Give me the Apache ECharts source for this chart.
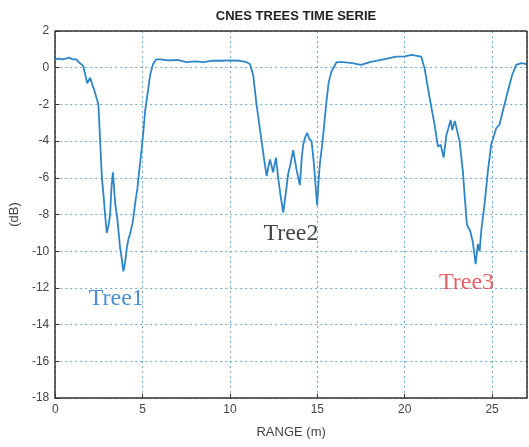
<!DOCTYPE html>
<html>
<head>
<meta charset="utf-8">
<script src="https://cdn.jsdelivr.net/npm/echarts@6/dist/echarts.min.js"></script>
<style>
html,body{margin:0;padding:0;background:#fff;}
#c{width:529px;height:447px;}
</style>
</head>
<body>
<div id="c"></div>
<script>
var rangeM = [0,0.2,0.4,0.6,0.8,1.0,1.2,1.35,1.6,1.83,2.0,2.15,2.29,2.47,2.57,2.67,2.76,2.85,2.95,3.05,3.14,3.22,3.3,3.43,3.55,3.71,3.82,3.9,4.0,4.1,4.19,4.3,4.44,4.52,4.6,4.7,4.82,4.95,5.05,5.14,5.3,5.43,5.6,5.77,6.0,6.5,7.0,7.5,8.0,8.5,9.0,9.5,10.0,10.5,10.95,11.14,11.33,11.52,11.81,12.0,12.1,12.2,12.29,12.47,12.63,12.76,12.9,13.05,13.2,13.33,13.45,13.62,13.8,14.0,14.1,14.19,14.3,14.42,14.55,14.67,14.78,14.86,14.93,14.99,15.07,15.14,15.3,15.52,15.65,15.81,16.1,16.5,17.0,17.5,18.0,18.5,19.0,19.5,20.0,20.4,20.7,20.95,21.14,21.43,21.71,21.9,22.06,22.23,22.38,22.5,22.63,22.72,22.8,22.87,22.95,23.14,23.33,23.45,23.56,23.75,23.9,24.06,24.19,24.29,24.38,24.47,24.57,24.76,24.95,25.24,25.43,25.66,25.9,26.15,26.38,26.67,27.0];
var levelDb = [0.45,0.5,0.45,0.5,0.55,0.45,0.45,0.3,0.1,-0.85,-0.55,-1.0,-1.4,-2.0,-4.0,-6.0,-6.9,-8.0,-9.0,-8.6,-8.0,-6.5,-5.7,-7.4,-8.2,-9.8,-10.5,-11.1,-10.6,-9.8,-9.35,-9.0,-8.4,-7.8,-7.2,-6.6,-5.5,-4.4,-3.4,-2.4,-1.3,-0.4,0.2,0.45,0.45,0.4,0.42,0.3,0.35,0.3,0.38,0.38,0.4,0.38,0.3,0.2,-0.4,-2.0,-4.0,-5.3,-5.9,-5.4,-5.0,-5.7,-4.9,-6.0,-7.0,-7.9,-6.8,-5.8,-5.3,-4.5,-5.5,-6.4,-5.0,-4.2,-3.8,-3.55,-3.9,-4.0,-5.0,-5.9,-6.8,-7.5,-6.2,-5.3,-4.0,-1.85,-0.8,-0.2,0.3,0.3,0.25,0.15,0.3,0.4,0.5,0.6,0.62,0.7,0.65,0.6,-0.05,-1.65,-3.1,-4.3,-4.2,-4.9,-3.7,-3.3,-2.85,-3.4,-3.3,-2.9,-3.0,-4.0,-5.65,-7.2,-8.55,-8.9,-9.5,-10.7,-9.6,-10.0,-8.9,-8.2,-7.45,-5.65,-4.2,-3.3,-3.1,-2.2,-1.3,-0.4,0.15,0.25,0.2];
var xTicks = [0,5,10,15,20,25];
var yTicks = [2,0,-2,-4,-6,-8,-10,-12,-14,-16,-18];
var treeNames = ['Tree1','Tree2','Tree3'];
var treeX = [3.49,13.49,23.54];
var treeY = [-12.6,-9.02,-11.74];
var treeColors = ['#2274c0','#141414','#e0393e'];

var pts = rangeM.map(function(x,i){return [x, levelDb[i]];});
var labelData = treeNames.map(function(n,i){
  return {value:[treeX[i],treeY[i]], name:n,
    label:{color:treeColors[i]}};
});

var chart = echarts.init(document.getElementById('c'), null, {renderer:'canvas'});
chart.setOption({
  animation:false,
  backgroundColor:'#ffffff',
  title:{text:'CNES TREES TIME SERIE', left:291, top:5, textAlign:'center',
    textStyle:{fontFamily:'Liberation Sans, Arial, sans-serif', fontWeight:'bold', fontSize:13, color:'#222'}},
  grid:{left:55, right:2, top:31, bottom:49, show:false},
  xAxis:{type:'value', min:0, max:27, interval:5,
    name:'RANGE (m)', nameLocation:'middle', nameGap:28,
    nameTextStyle:{fontFamily:'Liberation Sans, Arial, sans-serif', fontSize:13, color:'#444'},
    axisLine:{show:true, onZero:false, lineStyle:{color:'#333', width:1.5}},
    axisTick:{show:true, inside:true, length:4, lineStyle:{color:'#333'}},
    axisLabel:{fontFamily:'Liberation Sans, Arial, sans-serif', fontSize:12, color:'#444', margin:6,
      showMaxLabel:false,
      formatter:function(v){return xTicks.indexOf(v)>=0 ? String(v) : '';}},
    splitLine:{show:true, lineStyle:{color:'#6aa8d2', type:[2,3], width:1}}
  },
  yAxis:{type:'value', min:-18, max:2, interval:2,
    name:'(dB)', nameLocation:'middle', nameGap:30, nameRotate:90,
    nameTextStyle:{fontFamily:'Liberation Sans, Arial, sans-serif', fontSize:13, color:'#444'},
    axisLine:{show:true, onZero:false, lineStyle:{color:'#333', width:1.5}},
    axisTick:{show:true, inside:true, length:4, lineStyle:{color:'#333'}},
    axisLabel:{fontFamily:'Liberation Sans, Arial, sans-serif', fontSize:12, color:'#444', margin:6,
      formatter:function(v){return yTicks.indexOf(v)>=0 ? String(v) : '';}},
    splitLine:{show:true, lineStyle:{color:'#6aa8d2', type:[2,3], width:1}}
  },
  series:[
    {type:'line', data:pts, showSymbol:false, symbol:'none',
      lineStyle:{color:'#2f86c6', width:1.8}, z:3},
    {type:'scatter', data:labelData, symbolSize:0, silent:true,
      label:{show:true, position:'inside', formatter:'{b}',
        fontFamily:'Liberation Serif, Times New Roman, serif', fontSize:24}, z:4},
    {type:'line', data:[], markLine:{silent:true, symbol:'none', label:{show:false},
      lineStyle:{color:'#333', width:1.5, type:'solid'},
      data:[[{coord:[0,2]},{coord:[27,2]}],[{coord:[27,2]},{coord:[27,-18]}]]}}
  ]
});
</script>
</body>
</html>
